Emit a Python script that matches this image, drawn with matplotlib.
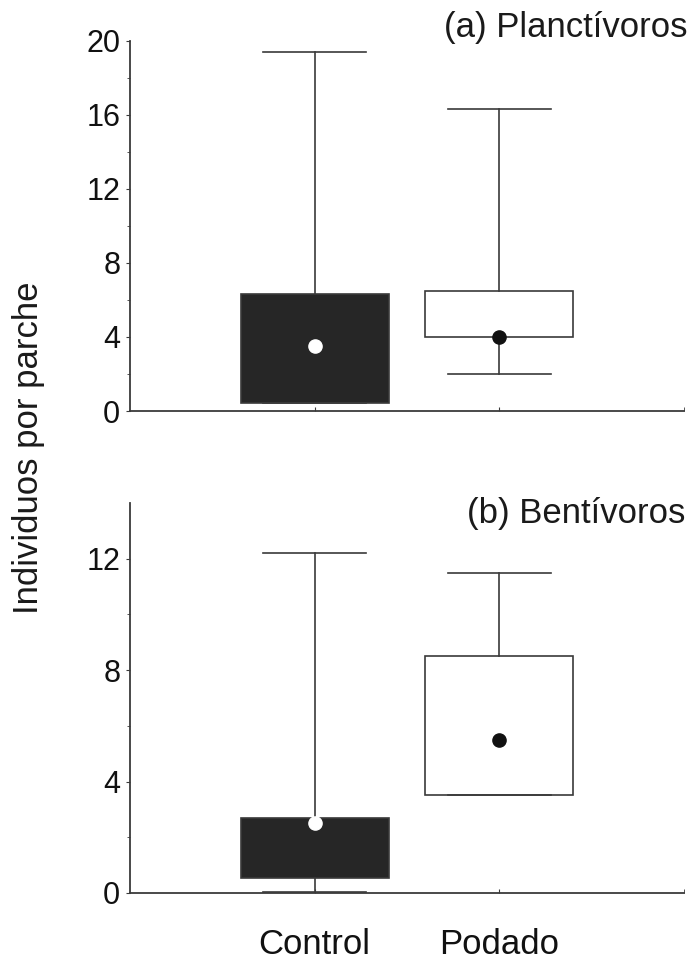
import matplotlib
matplotlib.use("Agg")
import matplotlib.pyplot as plt

plt.rcParams['font.family'] = ['Liberation Sans', 'DejaVu Sans']

groups = ["Control", "Podado"]

# (a) Planctivoros: median, q1, q3, whisker low, whisker high
plan_med = [3.5, 4.0]
plan_q1 = [0.45, 4.0]
plan_q3 = [6.3, 6.5]
plan_lo = [0.45, 2.0]
plan_hi = [19.4, 16.3]

# (b) Bentivoros
bent_med = [2.5, 5.5]
bent_q1 = [0.55, 3.5]
bent_q3 = [2.7, 8.5]
bent_lo = [0.05, 3.5]
bent_hi = [12.2, 11.5]

box_colors = ["#262626", "white"]
dot_colors = ["white", "#111111"]
line_col = "#3a3a3a"


def make_stats(med, q1, q3, lo, hi):
    stats = []
    for i in range(len(groups)):
        stats.append({'med': med[i], 'q1': q1[i], 'q3': q3[i],
                      'whislo': lo[i], 'whishi': hi[i], 'fliers': []})
    return stats


def draw_panel(ax, med, q1, q3, lo, hi, ymax, yticks, show_labels):
    bp = ax.bxp(make_stats(med, q1, q3, lo, hi), positions=[1, 2], widths=0.8,
                capwidths=0.56, patch_artist=True, showfliers=False,
                boxprops=dict(edgecolor=line_col, linewidth=1.2),
                whiskerprops=dict(color=line_col, linewidth=1.2),
                capprops=dict(color=line_col, linewidth=1.2),
                medianprops=dict(visible=False))
    for patch, c in zip(bp['boxes'], box_colors):
        patch.set_facecolor(c)
    for i in range(len(groups)):
        ax.plot(i + 1, med[i], 'o', color=dot_colors[i], markersize=9.5,
                markeredgecolor=dot_colors[i], zorder=5)

    ax.set_xlim(0, 3)
    ax.set_ylim(0, ymax)
    ax.set_yticks(yticks)
    ax.set_yticks([t + (yticks[1] - yticks[0]) / 2 for t in yticks[:-1]], minor=True)
    ax.set_xticks([1, 2])
    ax.set_xticks([3], minor=True)
    if show_labels:
        ax.set_xticklabels(groups, fontsize=25)
        for lbl in ax.get_xticklabels():
            lbl.set_x(lbl.get_position()[0])
    else:
        ax.set_xticklabels([])
    ax.spines['top'].set_visible(False)
    ax.spines['right'].set_visible(False)
    for s in ['left', 'bottom']:
        ax.spines[s].set_color(line_col)
        ax.spines[s].set_linewidth(1.3)
    ax.tick_params(axis='y', which='major', direction='out', length=3,
                   labelsize=22, pad=4, color=line_col, labelcolor="#111111")
    ax.tick_params(axis='y', which='minor', direction='out', length=2, color=line_col)
    ax.tick_params(axis='x', which='both', direction='in', length=3, pad=25,
                   color=line_col, labelcolor="#111111")
    return ax


fig = plt.figure(figsize=(6.94, 9.61), dpi=100)
ax1 = fig.add_axes([0.1873, 0.5723, 0.7983, 0.3854])
ax2 = fig.add_axes([0.1873, 0.0708, 0.7983, 0.4058])

draw_panel(ax1, plan_med, plan_q1, plan_q3, plan_lo, plan_hi, 20,
           [0, 4, 8, 12, 16, 20], False)
draw_panel(ax2, bent_med, bent_q1, bent_q3, bent_lo, bent_hi, 14,
           [0, 4, 8, 12], True)

fig.text(0.991, 0.971, "(a) Planctívoros", fontsize=25, ha='right', va='center',
         color="#1a1a1a")
fig.text(0.988, 0.466, "(b) Bentívoros", fontsize=25, ha='right', va='center',
         color="#1a1a1a")
fig.text(0.041, 0.534, "Individuos por parche", fontsize=25, rotation=90,
         ha='center', va='center', color="#1a1a1a")

fig.savefig("out.png", dpi=100)
